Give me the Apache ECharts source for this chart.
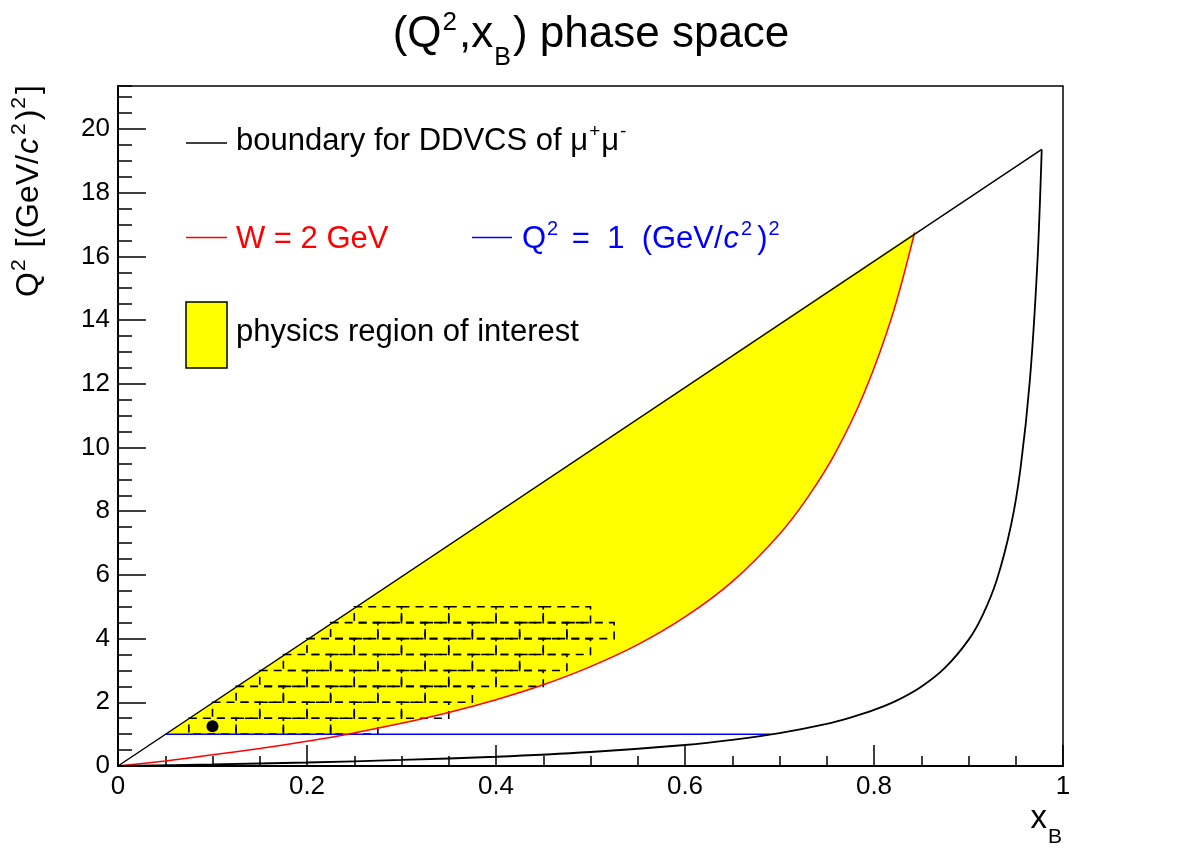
<!DOCTYPE html>
<html>
<head>
<meta charset="utf-8">
<script src="https://cdn.jsdelivr.net/npm/echarts@6/dist/echarts.min.js"></script>
<style>
  html, body { margin: 0; padding: 0; background: #fff; }
  #chart { width: 1182px; height: 853px; }
</style>
</head>
<body>
<div id="chart"></div>
<script>
// values
const boundaryLineX = [0, 0.9775];
const boundaryLineQ2 = [0, 19.36];
const boundaryCurveX = [0, 0.1, 0.2, 0.3, 0.4, 0.5, 0.6, 0.65, 0.7, 0.75, 0.775, 0.8, 0.825, 0.85, 0.875, 0.9, 0.915, 0.93, 0.945, 0.955, 0.965, 0.973, 0.9775];
const boundaryCurveQ2 = [0, 0.05, 0.11, 0.19, 0.29, 0.44, 0.66, 0.82, 1.03, 1.32, 1.52, 1.76, 2.07, 2.49, 3.08, 3.96, 4.74, 5.85, 7.56, 9.34, 12.13, 15.86, 19.36];
const wCurveX = [0, 0.05, 0.1, 0.15, 0.2, 0.243, 0.3, 0.35, 0.4, 0.45, 0.5, 0.55, 0.6, 0.65, 0.7, 0.73, 0.76, 0.79, 0.82, 0.843];
const wCurveQ2 = [0, 0.16, 0.35, 0.55, 0.78, 1.0, 1.34, 1.68, 2.08, 2.55, 3.12, 3.81, 4.68, 5.79, 7.28, 8.44, 9.88, 11.74, 14.21, 16.75];
const q2LineX = [0.05, 0.69];
const q2LineQ2 = [1, 1];
const regionStartX = 0.0505;
const regionStartQ2 = 1;
const dotX = [0.1];
const dotQ2 = [1.25];
// bin rows (brick pattern)
const binRowQ2Low = [1, 1.5, 2, 2.5, 3, 3.5, 4, 4.5];
const binRowXStart = [0.075, 0.1, 0.125, 0.15, 0.175, 0.2, 0.225, 0.25];
const binRowXEnd = [0.275, 0.35, 0.375, 0.45, 0.475, 0.5, 0.525, 0.5];
const binWidth = 0.05;
const binHeight = 0.5;
const xTicks = [0, 0.2, 0.4, 0.6, 0.8, 1];
const yTicks = [0, 2, 4, 6, 8, 10, 12, 14, 16, 18, 20];

const FONT = '"Liberation Sans", Arial, Helvetica, sans-serif';

const pairs = (xs, ys) => xs.map((x, i) => [x, ys[i]]);

// yellow region: diagonal edge then back down the W curve
const regionPts = [[regionStartX, regionStartQ2]];
for (let i = wCurveX.length - 1; i >= 0; i--) {
  if (wCurveQ2[i] >= 1) regionPts.push([wCurveX[i], wCurveQ2[i]]);
}

const bins = [];
binRowQ2Low.forEach((q, r) => {
  for (let x = binRowXStart[r]; x < binRowXEnd[r] - 1e-6; x += binWidth) {
    bins.push([+x.toFixed(4), +(x + binWidth).toFixed(4), q, q + binHeight]);
  }
});

const chart = echarts.init(document.getElementById('chart'), null, { renderer: 'canvas' });

const tok = (size, extra) => Object.assign({ fontSize: size, fontFamily: FONT }, extra || {});

const option = {
  animation: false,
  backgroundColor: '#fff',
  grid: { left: 118, right: 119, top: 86, bottom: 87, show: true, borderColor: '#000', borderWidth: 1.5 },
  xAxis: {
    type: 'value', min: 0, max: 1, interval: 0.2,
    axisLine: { onZero: false, lineStyle: { color: '#000', width: 2 } },
    axisTick: { inside: true, length: 21, lineStyle: { color: '#000', width: 1.5 } },
    minorTick: { show: true, splitNumber: 4, length: 10, lineStyle: { color: '#000', width: 1.5 } },
    axisLabel: { color: '#000', fontSize: 26, fontFamily: FONT, margin: 8,
      formatter: v => (xTicks.indexOf(+v.toFixed(2)) >= 0 ? String(+v.toFixed(2)) : '') },
    splitLine: { show: false }
  },
  yAxis: [{
    type: 'value', min: 0, max: 21.35, interval: 2,
    axisLine: { onZero: false, lineStyle: { color: '#000', width: 2 } },
    axisTick: { inside: true, length: 28, lineStyle: { color: '#000', width: 1.5 } },
    axisLabel: { color: '#000', fontSize: 26, fontFamily: FONT, margin: 8, showMaxLabel: false,
      formatter: v => (yTicks.indexOf(v) >= 0 ? String(v) : '') },
    splitLine: { show: false }
  }, {
    type: 'value', min: 0, max: 21.35, interval: 0.5, position: 'left',
    axisLine: { show: false },
    axisTick: { inside: true, length: 14, lineStyle: { color: '#000', width: 1.5 } },
    axisLabel: { show: false },
    splitLine: { show: false }
  }],
  series: [
    {
      type: 'custom', z: 1, silent: true,
      data: regionPts,
      renderItem: (params, api) => {
        if (params.dataIndex !== 0) return;
        return {
          type: 'polygon',
          shape: { points: regionPts.map(p => api.coord(p)) },
          style: { fill: '#ffff00', stroke: null }
        };
      }
    },
    {
      type: 'custom', z: 2, silent: true,
      data: bins,
      renderItem: (params, api) => {
        const a = api.coord([api.value(0), api.value(3)]);
        const b = api.coord([api.value(1), api.value(2)]);
        return {
          type: 'rect',
          shape: { x: a[0], y: a[1], width: b[0] - a[0], height: b[1] - a[1] },
          style: { fill: 'none', stroke: '#000', lineWidth: 1.6, lineDash: [8, 6] }
        };
      }
    },
    { type: 'line', z: 3, data: pairs(q2LineX, q2LineQ2), showSymbol: false, symbol: 'none',
      lineStyle: { color: '#0000ff', width: 1.5 } },
    { type: 'line', z: 3, data: pairs(wCurveX, wCurveQ2), showSymbol: false, symbol: 'none',
      smooth: 0.3, lineStyle: { color: '#ff0000', width: 1.5 } },
    { type: 'line', z: 3, data: pairs(boundaryLineX, boundaryLineQ2), showSymbol: false, symbol: 'none',
      lineStyle: { color: '#000', width: 1.5 } },
    { type: 'line', z: 3, data: pairs(boundaryCurveX, boundaryCurveQ2), showSymbol: false, symbol: 'none',
      smooth: 0.3, lineStyle: { color: '#000', width: 1.8 } },
    { type: 'scatter', z: 4, data: pairs(dotX, dotQ2), symbol: 'circle', symbolSize: 12,
      itemStyle: { color: '#000', opacity: 1 } }
  ],
  graphic: [
    // title
    { type: 'text', x: 591, y: 35, style: {
      text: '{m|(Q}{p|2}{m|,x}{b|B}{m|) phase space}', align: 'center', verticalAlign: 'middle',
      rich: { m: tok(44, { fill: '#000' }), p: tok(26, { fill: '#000', padding: [0, 2, 24, 1] }),
              b: tok(25, { fill: '#000', padding: [46, 2, 0, 1] }) } } },
    // y title
    { type: 'text', x: 29, y: 191, rotation: Math.PI / 2, style: {
      text: '{m|Q}{p|2}{m| [(GeV/}{i|c}{p|2}{m|)}{p|2}{m|]}', align: 'center', verticalAlign: 'middle',
      rich: { m: tok(32, { fill: '#000' }), i: tok(32, { fill: '#000', fontStyle: 'italic', padding: [0, 2, 0, 1] }),
              p: tok(21, { fill: '#000', padding: [0, 3, 20, 1] }) } } },
    // x title
    { type: 'text', x: 1062, y: 819, style: {
      text: '{m|x}{b|B}', align: 'right', verticalAlign: 'middle',
      rich: { m: tok(33, { fill: '#000' }), b: tok(21, { fill: '#000', padding: [36, 0, 0, 1] }) } } },
    // legend
    { type: 'line', shape: { x1: 186, y1: 143, x2: 227, y2: 143 }, style: { stroke: '#000', lineWidth: 1.5 } },
    { type: 'text', x: 236, y: 141, style: {
      text: '{m|boundary for DDVCS of μ}{p|+}{m|μ}{p|-}', align: 'left', verticalAlign: 'middle',
      rich: { m: tok(31, { fill: '#000' }), p: tok(19, { fill: '#000', padding: [0, 1, 18, 1] }) } } },
    { type: 'line', shape: { x1: 186, y1: 237.5, x2: 227, y2: 237.5 }, style: { stroke: '#ff0000', lineWidth: 1.5 } },
    { type: 'text', x: 236, y: 239, style: {
      text: 'W = 2 GeV', align: 'left', verticalAlign: 'middle', fontSize: 31, fontFamily: FONT, fill: '#ff0000' } },
    { type: 'line', shape: { x1: 472, y1: 237.5, x2: 512, y2: 237.5 }, style: { stroke: '#0000ff', lineWidth: 1.5 } },
    { type: 'text', x: 522, y: 239, style: {
      text: '{m|Q}{p|2}{m| =  1  (GeV/}{i|c}{p|2}{m|)}{p|2}', align: 'left', verticalAlign: 'middle',
      rich: { m: tok(31, { fill: '#0000ff' }), i: tok(31, { fill: '#0000ff', fontStyle: 'italic', padding: [0, 1, 0, 1] }),
              p: tok(20, { fill: '#0000ff', padding: [0, 5, 19, 1] }) } } },
    { type: 'rect', shape: { x: 186, y: 302, width: 41, height: 66 }, style: { fill: '#ffff00', stroke: '#000', lineWidth: 1.5 } },
    { type: 'text', x: 236, y: 332, style: {
      text: 'physics region of interest', align: 'left', verticalAlign: 'middle', fontSize: 31, fontFamily: FONT, fill: '#000' } }
  ]
};

chart.setOption(option);
</script>
</body>
</html>
